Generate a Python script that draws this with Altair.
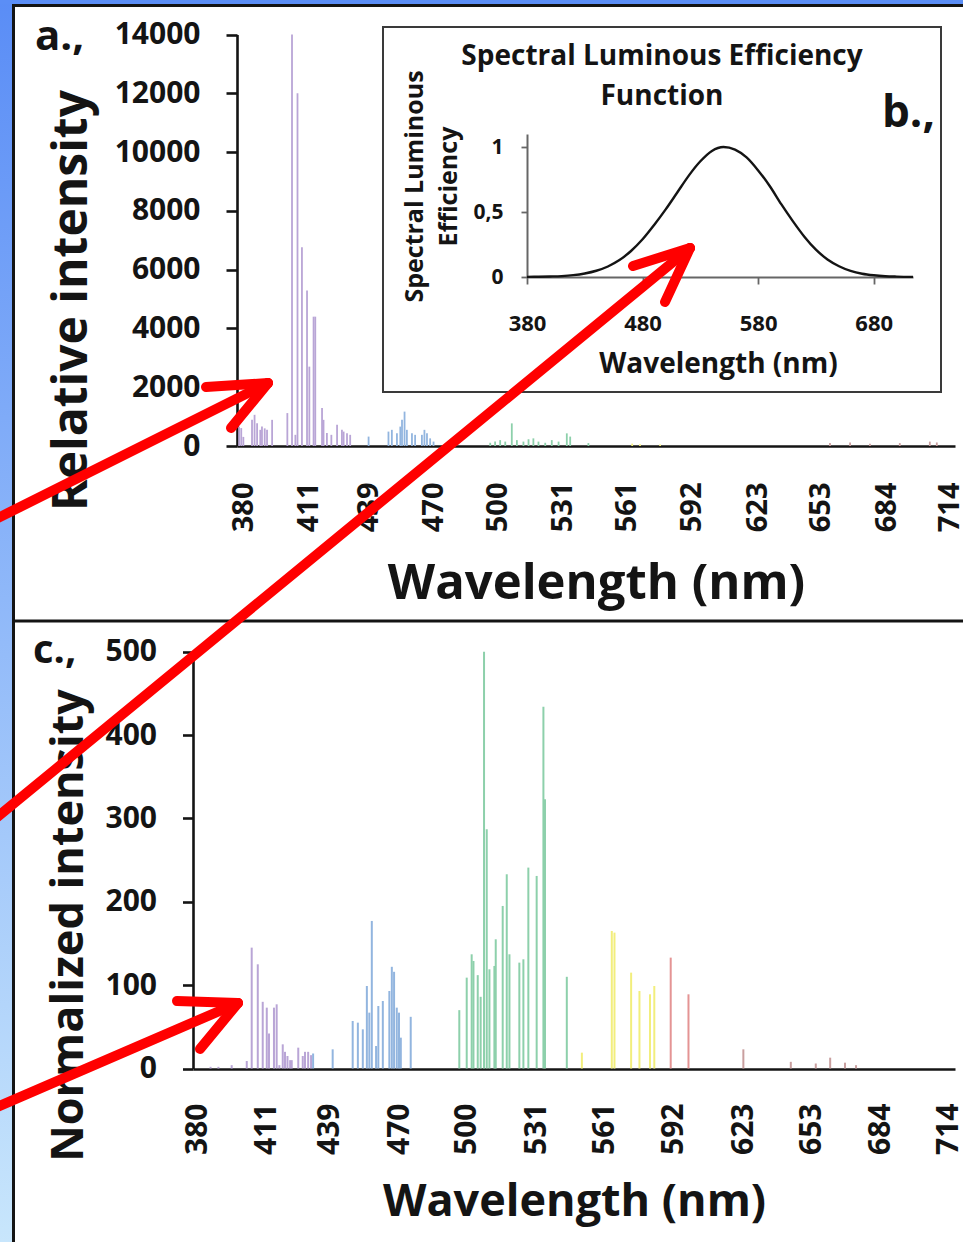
import altair as alt
import pandas as pd

FONT = "Open Sans"
INK = "#141414"

# ---------------------------------------------------------------- data
# a.) relative intensity of the emission lines
a_wavelength = [378, 379, 380, 384.1, 385.3, 386.5, 388.0, 388.8, 390.1, 391.2, 393.6,
                400.8, 403.0, 404.6, 405.6, 407.7, 410.1, 411.2, 413.2, 414.0, 417.2,
                417.9, 419.5, 421.6, 424.3, 426.6, 427.4, 429.0, 430.5, 439.2, 448.6,
                450.2, 452.6, 454.2, 455.0, 456.2, 457.3, 459.7, 461.2, 464.4, 465.6,
                466.8, 468.3, 469.9, 496.7, 499.0, 501.4, 503.8, 506.9, 509.3, 512.4,
                514.8, 517.1, 519.5, 522.7, 525.8, 529.0, 532.9, 534.5, 543.1, 563.8,
                567.5, 577.0, 657.3, 666.8, 676.2, 690.3, 704.5, 707.8]
a_intensity = [660, 610, 310, 890, 1060, 770, 550, 660, 600, 550, 890,
               1120, 14000, 380, 12000, 6760, 5290, 2700, 4400, 4400, 1290,
               890, 440, 380, 720, 550, 490, 430, 380, 320, 490,
               550, 430, 660, 890, 1170, 550, 430, 380, 380, 550,
               430, 260, 150, 110, 150, 200, 150, 770, 200, 150,
               230, 260, 150, 110, 200, 150, 430, 320, 100, 80,
               60, 50, 100, 120, 80, 100, 150, 120]

# b.) spectral luminous efficiency function
b_wavelength = [380, 390, 400, 410, 420, 430, 440, 450, 460, 470, 480, 490, 500, 510,
                520, 530, 540, 550, 560, 570, 580, 590, 600, 610, 620, 630, 640, 650,
                660, 670, 680, 690, 700, 714]
b_efficiency = [0.001, 0.002, 0.004, 0.007, 0.014, 0.027, 0.048, 0.081, 0.13, 0.2,
                0.29, 0.4, 0.52, 0.65, 0.78, 0.89, 0.97, 1.0, 0.98, 0.92, 0.82, 0.7,
                0.56, 0.43, 0.31, 0.21, 0.135, 0.083, 0.047, 0.025, 0.013, 0.006,
                0.003, 0.001]

# c.) normalized intensity of the same lines
c_wavelength = [386.0, 389.5, 395.4, 402.1, 404.3, 407.0, 409.2, 411.0, 412.0, 414.2,
                415.4, 416.6, 418.1, 419.1, 420.2, 421.4, 422.1, 425.0, 427.0, 428.0,
                429.4, 430.7, 431.6, 440.3, 449.2, 451.5, 453.7, 455.5, 456.6, 457.7,
                459.6, 460.6, 462.6, 465.5, 466.6, 467.6, 468.8, 469.8, 470.6, 475.0,
                496.6, 499.9, 502.1, 502.9, 504.8, 506.1, 507.6, 508.8, 510.0, 512.2,
                512.8, 515.9, 517.7, 518.9, 523.3, 525.1, 527.3, 531.0, 534.0, 534.7,
                544.4, 551.1, 564.4, 565.6, 573.0, 576.7, 581.4, 583.3, 590.6, 598.5,
                622.9, 644.0, 655.1, 661.5, 668.1, 673.0]
c_intensity = [2, 2, 4, 9, 145, 125, 80, 73, 42, 73,
               77, 4, 29, 20, 15, 10, 10, 25, 15, 20,
               20, 16, 18, 23, 57, 55, 47, 99, 67, 177,
               27, 75, 81, 93, 122, 116, 73, 67, 37, 62,
               70, 109, 137, 129, 112, 86, 500, 287, 119, 123,
               155, 195, 233, 137, 127, 131, 241, 231, 434, 323,
               110, 19, 165, 163, 115, 93, 89, 99, 133, 89,
               23, 8, 6, 13, 7, 4]

tick_wavelengths = [380, 411, 439, 470, 500, 531, 561, 592, 623, 653, 684, 714]

# spectral colour of each line (violet, blue, green, yellow, red, deep red)
band_edges = [431, 486, 548, 588, 615]
band_colors = ["#b9a5d6", "#92b5df", "#8dd0ab", "#f2ee7c", "#e49494", "#c99f9f"]

spec_a = pd.DataFrame({"wl": a_wavelength, "val": a_intensity})
spec_c = pd.DataFrame({"wl": c_wavelength, "val": c_intensity})
veff = pd.DataFrame({"wl": b_wavelength, "eff": b_efficiency})
one = pd.DataFrame({"k": [0]})

band_color = alt.Color("wl:Q", legend=None,
                       scale=alt.Scale(type="threshold", domain=band_edges, range=band_colors))


def strip(x0, y0, x1, y1, fill):
    return alt.Chart(one).mark_rect(fill=fill).encode(
        x=alt.value(x0), x2=alt.value(x1), y=alt.value(y0), y2=alt.value(y1))


def line(x0, y0, x1, y1, color, width, cap="butt"):
    return alt.Chart(one).mark_rule(color=color, strokeWidth=width, strokeCap=cap).encode(
        x=alt.value(x0), y=alt.value(y0), x2=alt.value(x1), y2=alt.value(y1))


def label(txt, x, y, size, align="left", **kw):
    return alt.Chart(one).mark_text(text=txt, font=FONT, fontWeight="bold", fontSize=size,
                                    color=INK, align=align, baseline="alphabetic", **kw).encode(
        x=alt.value(x), y=alt.value(y))


def arrow(tail, tip, wing1, wing2):
    red = dict(color="#ff0000", width=10, cap="round")
    return [line(*tail, *tip, **red), line(*tip, *wing1, **red), line(*tip, *wing2, **red)]


# ---------------------------------------------------------------- backdrop & frames
slide_blue = alt.Gradient(
    gradient="linear", x1=0, y1=0, x2=0, y2=1,
    stops=[alt.GradientStop(color="#5a8df6", offset=0),
           alt.GradientStop(color="#c8e6fc", offset=1)])

frames = [
    strip(0, 0, 12, 1242, slide_blue),
    strip(0, 0, 963, 4, "#5b8ef6"),
    line(13.5, 4, 13.5, 1242, INK, 3),
    line(12, 5.5, 963, 5.5, INK, 3),
    line(12, 621, 963, 621, INK, 3),
    alt.Chart(one).mark_rect(fillOpacity=0, stroke="#3a3a3a", strokeWidth=2).encode(
        x=alt.value(383), x2=alt.value(941), y=alt.value(27), y2=alt.value(392)),
]

# ---------------------------------------------------------------- panel a
lines_a = alt.Chart(spec_a).mark_rule(strokeWidth=1.8).encode(
    x=alt.X("wl:Q",
            scale=alt.Scale(domain=[377, 716.4], range=[237, 955], nice=False, zero=False),
            axis=alt.Axis(orient="bottom", offset=-796, values=tick_wavelengths, format="d",
                          ticks=True, tickSize=0, labelAngle=270, labelFontSize=29,
                          labelPadding=36, labelFlush=False, labelOverlap=False,
                          domainWidth=2.6, domainColor=INK, grid=False,
                          title="Wavelength (nm)", titleFontSize=49, titleX=596, titleY=152,
                          titleAlign="center", titleBaseline="alphabetic")),
    y=alt.Y("val:Q",
            scale=alt.Scale(domain=[0, 14000], range=[446, 34.5], nice=False),
            axis=alt.Axis(orient="left", offset=-237, values=list(range(0, 14001, 2000)),
                          format="d", tickSize=11, tickWidth=2.6, tickColor=INK,
                          domainWidth=2.6, domainColor=INK, labelFontSize=30,
                          labelPadding=26, labelOverlap=False, grid=False,
                          title="Relative intensity", titleFontSize=48, titleAngle=270,
                          titleX=-165, titleY=300, titleAlign="center",
                          titleBaseline="middle")),
    y2=alt.datum(0),
    color=band_color,
)

# ---------------------------------------------------------------- panel b (inset)
curve_b = alt.Chart(veff).mark_line(color=INK, strokeWidth=2.4, interpolate="monotone").encode(
    x=alt.X("wl:Q",
            scale=alt.Scale(domain=[380, 714], range=[527, 913], nice=False, zero=False),
            axis=alt.Axis(orient="bottom", offset=-965, values=[380, 480, 580, 680],
                          format="d", tickSize=7, tickColor="#666", tickWidth=1.8,
                          domainColor="#666", domainWidth=2, labelAngle=0, labelFontSize=22,
                          labelPadding=29, labelFlush=False, grid=False,
                          title="Wavelength (nm)", titleFontSize=28, titleX=718, titleY=95,
                          titleAlign="center", titleBaseline="alphabetic")),
    y=alt.Y("eff:Q",
            scale=alt.Scale(domain=[0, 1.1], range=[277, 134], nice=False),
            axis=alt.Axis(orient="left", offset=-527, values=[0, 0.5, 1],
                          labelExpr="datum.value == 0.5 ? '0,5' : format(datum.value, 'd')",
                          tickSize=6, tickColor="#666", tickWidth=1.8, domainColor="#666",
                          domainWidth=2, labelFontSize=21, labelPadding=18, grid=False,
                          title=["Spectral Luminous", "Efficiency"], titleFontSize=25,
                          titleAngle=270, titleX=-113, titleY=186, titleAlign="center",
                          titleBaseline="middle", titleLineHeight=34)),
)

# ---------------------------------------------------------------- panel c
lines_c = alt.Chart(spec_c).mark_rule(strokeWidth=2).encode(
    x=alt.X("wl:Q",
            scale=alt.Scale(domain=[378.2, 717], range=[193, 955], nice=False, zero=False),
            axis=alt.Axis(orient="bottom", offset=-173, values=tick_wavelengths, format="d",
                          ticks=True, tickSize=0, labelAngle=270, labelFontSize=30,
                          labelPadding=34, labelFlush=False, labelOverlap=False,
                          domainWidth=2.6, domainColor=INK, grid=False,
                          title="Wavelength (nm)", titleFontSize=45, titleX=574, titleY=146,
                          titleAlign="center", titleBaseline="alphabetic")),
    y=alt.Y("val:Q",
            scale=alt.Scale(domain=[0, 500], range=[1068.5, 651.7], nice=False),
            axis=alt.Axis(orient="left", offset=-193, values=list(range(0, 501, 100)),
                          format="d", tickSize=10.5, tickWidth=2.6, tickColor=INK,
                          domainWidth=2.6, domainColor=INK, labelFontSize=30,
                          labelPadding=26, labelOverlap=False, grid=False,
                          title="Normalized intensity", titleFontSize=45, titleAngle=270,
                          titleX=-125, titleY=925, titleAlign="center",
                          titleBaseline="middle")),
    y2=alt.datum(0),
    color=band_color,
)

# ---------------------------------------------------------------- lettering
texts = [
    label("a.,", 35, 50, 42),
    label("b.,", 882, 127, 44),
    label("c.,", 33, 663, 40),
    label("Spectral Luminous Efficiency\nFunction", 662, 65, 28, align="center",
          lineBreak="\n", lineHeight=40),
]

# ---------------------------------------------------------------- pointers
arrows = (arrow((-10, 522), (268, 383), (206, 387), (231, 428))
          + arrow((-10, 823), (690, 248), (633, 266), (665, 302))
          + arrow((-10, 1110), (238, 1003), (177, 1001), (200, 1049)))

chart = alt.layer(
    *frames, lines_a, curve_b, lines_c, *texts, *arrows,
).resolve_scale(
    x="independent", y="independent", color="independent"
).resolve_axis(
    x="independent", y="independent"
).properties(
    width=963, height=1242, padding=0, autosize=alt.AutoSizeParams(type="none"),
    background="white",
).configure_view(
    stroke=None
).configure_axis(
    labelFont=FONT, labelFontWeight="bold", labelColor=INK,
    titleFont=FONT, titleFontWeight="bold", titleColor=INK,
)

chart.save("out.html", embed_options={"renderer": "svg", "actions": False})
